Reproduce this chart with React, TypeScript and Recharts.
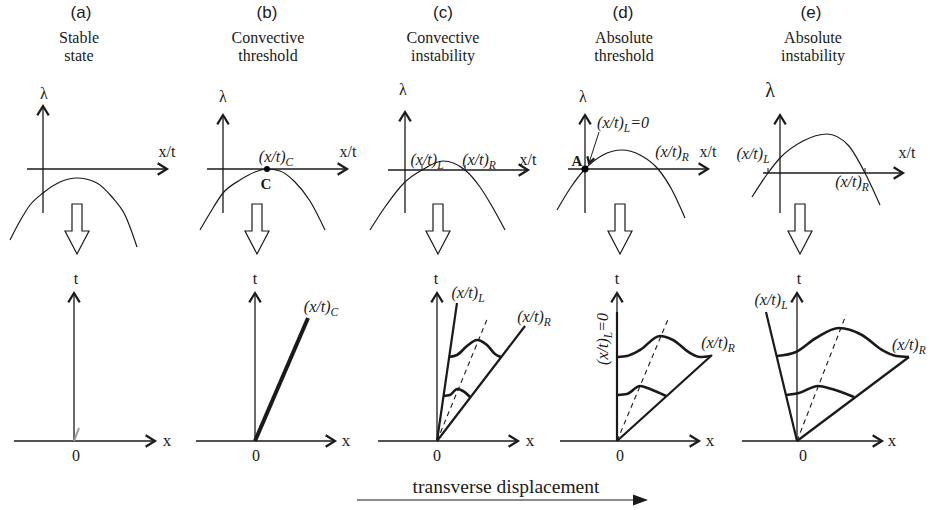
import React from "react";
import { LineChart, Line, XAxis, YAxis, ReferenceLine, ReferenceDot } from "recharts";

type Pt = { x: number; y: number };

// ---- top row: growth rate λ against ray speed x/t ----
const curveA: Pt[] = [
  { x: -3.3, y: -7.1 }, { x: -2.3, y: -5.2 }, { x: -1.3, y: -3.6 }, { x: 0, y: -2.4 },
  { x: 1.7, y: -1.3 }, { x: 3.4, y: -0.9 }, { x: 5.2, y: -1.3 }, { x: 6.9, y: -2.8 },
  { x: 8.2, y: -4.6 }, { x: 9.4, y: -7.8 },
];
const curveB: Pt[] = [
  { x: -2.3, y: -6.1 }, { x: -1.3, y: -4.4 }, { x: 0, y: -2.4 }, { x: 1.7, y: -1.1 },
  { x: 3.2, y: -0.3 }, { x: 4.4, y: 0 }, { x: 5.7, y: -0.2 }, { x: 7.2, y: -1.3 },
  { x: 8.7, y: -3.2 }, { x: 10.2, y: -6.1 },
];
const curveC: Pt[] = [
  { x: -3.5, y: -6.0 }, { x: -2.0, y: -3.7 }, { x: 0, y: -1.2 }, { x: 1.7, y: 0 },
  { x: 3.8, y: 0.9 }, { x: 6.0, y: 0 }, { x: 7.5, y: -1.7 }, { x: 8.8, y: -3.8 }, { x: 10.0, y: -6.0 },
];
const curveD: Pt[] = [
  { x: -2.8, y: -4.1 }, { x: -1.4, y: -1.8 }, { x: 0, y: 0 }, { x: 1.8, y: 1.4 },
  { x: 3.7, y: 1.9 }, { x: 5.5, y: 1.4 }, { x: 7.3, y: 0 }, { x: 8.7, y: -2.1 }, { x: 10.0, y: -4.9 },
];
const curveE: Pt[] = [
  { x: -2.8, y: -2.4 }, { x: -1.2, y: 0 }, { x: 0, y: 1.5 }, { x: 2.3, y: 3.2 },
  { x: 4.7, y: 3.9 }, { x: 6.8, y: 2.8 }, { x: 8.5, y: 0 }, { x: 10.0, y: -3.2 },
];
const topCurves = [curveA, curveB, curveC, curveD, curveE];

// axis extents (x/t and λ) per panel
const topXSpan = [[-1.6, 12.4], [-1.6, 12.4], [-1.7, 12.3], [-1.7, 12.3], [-1.7, 12.3]];
const topYSpan = [[-4.4, 6.3], [-4.4, 5.4], [-4.3, 5.8], [-4.4, 5.4], [-4.0, 5.8]];
// crossing ticks on the x/t axis
const topTicks = [[], [], [1.7, 6.0], [], [-1.2, 8.5]];
// hollow "leads to" arrows: x position, top
const hollowX = [3.4, 3.4, 3.3, 3.5, 2.0];
const hollowTop = [-3.5, -3.5, -3.4, -3.5, -3.1];

// ---- bottom row: rays and wave packets in the x–t plane ----
const rayEnds: { x: number; y: number; kind: string }[][] = [
  [{ x: 0.5, y: 1.3, kind: "ghost" }],
  [{ x: 5.3, y: 12.3, kind: "heavy" }],
  [{ x: 2.0, y: 13.8, kind: "ray" }, { x: 8.8, y: 11.5, kind: "ray" }, { x: 5.1, y: 12.4, kind: "dash" }],
  [{ x: 0, y: 12.9, kind: "ray" }, { x: 9.5, y: 8.6, kind: "ray" }, { x: 5.2, y: 12.4, kind: "dash" }],
  [{ x: -3.1, y: 12.9, kind: "ray" }, { x: 11.2, y: 8.4, kind: "ray" }, { x: 4.9, y: 12.6, kind: "dash" }],
];

const waveCUpper: Pt[] = [
  { x: 1.2, y: 8.4 }, { x: 2.0, y: 8.6 }, { x: 3.0, y: 9.5 }, { x: 4.0, y: 10.1 },
  { x: 5.0, y: 9.6 }, { x: 5.8, y: 8.7 }, { x: 6.4, y: 8.4 },
];
const waveCLower: Pt[] = [
  { x: 0.6, y: 4.5 }, { x: 1.3, y: 4.6 }, { x: 2.0, y: 5.2 }, { x: 2.6, y: 5.0 }, { x: 3.3, y: 4.4 },
];
const waveDUpper: Pt[] = [
  { x: 0.1, y: 8.4 }, { x: 1.0, y: 8.5 }, { x: 2.3, y: 9.1 }, { x: 4.3, y: 10.5 },
  { x: 5.6, y: 10.1 }, { x: 7.3, y: 8.8 }, { x: 8.3, y: 8.4 }, { x: 9.4, y: 8.5 },
];
const waveDLower: Pt[] = [
  { x: 0.1, y: 4.6 }, { x: 1.0, y: 4.7 }, { x: 2.3, y: 5.5 }, { x: 3.3, y: 5.2 }, { x: 4.9, y: 4.5 },
];
const waveEUpper: Pt[] = [
  { x: -2.0, y: 8.5 }, { x: -0.1, y: 8.9 }, { x: 1.9, y: 10.3 }, { x: 4.2, y: 11.3 },
  { x: 6.5, y: 10.6 }, { x: 8.5, y: 9.1 }, { x: 9.9, y: 8.5 }, { x: 11.2, y: 8.4 },
];
const waveELower: Pt[] = [
  { x: -1.1, y: 4.6 }, { x: 0.2, y: 4.8 }, { x: 2.1, y: 5.5 }, { x: 3.5, y: 5.2 }, { x: 5.7, y: 4.4 },
];
const waves: Pt[][][] = [[], [], [waveCUpper, waveCLower], [waveDUpper, waveDLower], [waveEUpper, waveELower]];

const bottomXSpan = [[-6.0, 8.1], [-5.9, 8.0], [-5.9, 8.1], [-5.7, 8.2], [-5.5, 8.5]];
const tTop = 14.8;

// ---- text ----
const panelLetters = ["(a)", "(b)", "(c)", "(d)", "(e)"];
const titles = [
  ["Stable", "state"],
  ["Convective", "threshold"],
  ["Convective", "instability"],
  ["Absolute", "threshold"],
  ["Absolute", "instability"],
];

// layout (page pixels)
const topOrigins = [[43, 169], [223, 169], [405, 170], [585, 169], [780, 173]];
const bottomOriginX = [74, 255, 437, 617, 797];
const bottomOriginY = 441;
const letterX = [81, 267, 443, 623, 811];
const titleX = [79, 268, 443, 624, 813];
const lambdaPos = [[44, 94], [223, 97], [403, 90], [583, 97], [770, 90]];
const xtPos = [[167, 152], [348, 152], [528, 160], [708, 152], [907, 153]];
const tPos = [76, 255, 436, 617, 799];
const xPos = [167, 346, 530, 710, 892];
const zeroPos = [76, 256, 437, 620, 803];

const SERIF = "'Liberation Serif', 'Times New Roman', 'DejaVu Serif', serif";
const SANS = "'Liberation Sans', Arial, sans-serif";
const INK = "#1a1a1a";

const ArrowShape = (head: number, width: number) => (props: any) => {
  const { x1, y1, x2, y2 } = props;
  const ang = Math.atan2(y2 - y1, x2 - x1);
  const s = 0.55;
  const ax = x2 - head * Math.cos(ang - s);
  const ay = y2 - head * Math.sin(ang - s);
  const bx = x2 - head * Math.cos(ang + s);
  const by = y2 - head * Math.sin(ang + s);
  return (
    <g>
      <line x1={x1} y1={y1} x2={x2} y2={y2} stroke={INK} strokeWidth={width} />
      <polyline points={`${ax},${ay} ${x2},${y2} ${bx},${by}`} fill="none" stroke={INK} strokeWidth={2.2} />
    </g>
  );
};
const AxisArrow = ArrowShape(11, 1.3);
const SmallArrow = ArrowShape(7, 1.0);

const HollowArrow = (props: any) => {
  const { cx, cy } = props;
  return (
    <path
      d={`M${cx - 5},${cy} H${cx + 5} V${cy + 27} H${cx + 12} L${cx},${cy + 50} L${cx - 12},${cy + 27} H${cx - 5} Z`}
      fill="#fff"
      stroke={INK}
      strokeWidth={1.2}
    />
  );
};

const Txt = ({ x, y, size = 16, font = SERIF, italic = false, bold = false, rotate = 0, align = "center", children }: any) => (
  <div
    style={{
      position: "absolute",
      left: x,
      top: y,
      transform: `translate(${align === "left" ? "0" : "-50%"},-50%) rotate(${rotate}deg)`,
      fontFamily: font,
      fontSize: size,
      fontStyle: italic ? "italic" : "normal",
      fontWeight: bold ? "bold" : "normal",
      whiteSpace: "nowrap",
      lineHeight: 1,
      color: INK,
    }}
  >
    {children}
  </div>
);

const Sub = ({ s, tail = "" }: { s: string; tail?: string }) => (
  <span style={{ fontStyle: "italic" }}>
    (x/t)
    <span style={{ fontSize: "0.72em", position: "relative", top: 4 }}>{s}</span>
    {tail}
  </span>
);

const TopPanel = ({ i }: { i: number }) => {
  const [ox, oy] = topOrigins[i];
  return (
    <div style={{ position: "absolute", left: ox - 40, top: oy - 100 }}>
      <LineChart width={180} height={190} margin={{ top: 0, right: 0, bottom: 0, left: 0 }}>
        <XAxis type="number" dataKey="x" domain={[-4, 14]} allowDataOverflow hide />
        <YAxis type="number" dataKey="y" domain={[-9, 10]} allowDataOverflow hide />
        <ReferenceLine segment={[{ x: topXSpan[i][0], y: 0 }, { x: topXSpan[i][1], y: 0 }]} shape={AxisArrow} />
        <ReferenceLine segment={[{ x: 0, y: topYSpan[i][0] }, { x: 0, y: topYSpan[i][1] }]} shape={AxisArrow} />
        {topTicks[i].map((t) => (
          <ReferenceLine key={t} segment={[{ x: t, y: 0 }, { x: t, y: 0.5 }]} stroke={INK} strokeWidth={1} />
        ))}
        <Line
          data={topCurves[i]}
          dataKey="y"
          type="monotone"
          stroke={INK}
          strokeWidth={1.2}
          dot={false}
          isAnimationActive={false}
        />
        {i === 1 && <ReferenceDot x={4.4} y={0} r={3} fill="#000" stroke="none" />}
        {i === 3 && <ReferenceDot x={0} y={0} r={3.5} fill="#000" stroke="none" />}
        {i === 3 && <ReferenceLine segment={[{ x: 1.4, y: 3.7 }, { x: 0.4, y: 0.6 }]} shape={SmallArrow} />}
        <ReferenceDot x={hollowX[i]} y={hollowTop[i]} r={1} shape={HollowArrow} />
      </LineChart>
    </div>
  );
};

const BottomPanel = ({ i }: { i: number }) => {
  const ox = bottomOriginX[i];
  return (
    <div style={{ position: "absolute", left: ox - 70, top: bottomOriginY - 170 }}>
      <LineChart width={200} height={200} margin={{ top: 0, right: 0, bottom: 0, left: 0 }}>
        <XAxis type="number" dataKey="x" domain={[-7, 13]} allowDataOverflow hide />
        <YAxis type="number" dataKey="y" domain={[-3, 17]} allowDataOverflow hide />
        <ReferenceLine segment={[{ x: bottomXSpan[i][0], y: 0 }, { x: bottomXSpan[i][1], y: 0 }]} shape={AxisArrow} />
        <ReferenceLine segment={[{ x: 0, y: 0 }, { x: 0, y: tTop }]} shape={AxisArrow} />
        {rayEnds[i].map((r, k) => (
          <ReferenceLine
            key={k}
            segment={[{ x: 0, y: 0 }, { x: r.x, y: r.y }]}
            stroke={r.kind === "ghost" ? "#9a9a9a" : INK}
            strokeWidth={r.kind === "heavy" ? 4 : r.kind === "dash" ? 1.1 : r.kind === "ghost" ? 2 : 2.2}
            strokeDasharray={r.kind === "dash" ? "5 4" : undefined}
          />
        ))}
        {waves[i].map((w, k) => (
          <Line
            key={k}
            data={w}
            dataKey="y"
            type="monotone"
            stroke={INK}
            strokeWidth={2.6}
            dot={false}
            isAnimationActive={false}
          />
        ))}
      </LineChart>
    </div>
  );
};

export default function App() {
  return (
    <div
      style={{
        position: "absolute",
        left: 0,
        top: 0,
        width: 930,
        height: 510,
        background: "#fff",
        overflow: "hidden",
        fontFamily: SERIF,
      }}
    >
      {[0, 1, 2, 3, 4].map((i) => (
        <TopPanel key={`t${i}`} i={i} />
      ))}
      {[0, 1, 2, 3, 4].map((i) => (
        <BottomPanel key={`b${i}`} i={i} />
      ))}

      {panelLetters.map((s, i) => (
        <Txt key={s} x={letterX[i]} y={12} size={17} font={SANS}>
          {s}
        </Txt>
      ))}
      {titles.map((t, i) => (
        <React.Fragment key={i}>
          <Txt x={titleX[i]} y={38} size={16}>{t[0]}</Txt>
          <Txt x={titleX[i]} y={56} size={16}>{t[1]}</Txt>
        </React.Fragment>
      ))}
      {lambdaPos.map(([x, y], i) => (
        <Txt key={`l${i}`} x={x} y={y} size={i === 4 ? 20 : 16}>λ</Txt>
      ))}
      {xtPos.map(([x, y], i) => (
        <Txt key={`xt${i}`} x={x} y={y} size={16}>x/t</Txt>
      ))}

      {/* top annotations */}
      <Txt x={276} y={157} size={16}><Sub s="C" /></Txt>
      <Txt x={266} y={184} size={15} bold>C</Txt>
      <Txt x={427} y={160} size={16}><Sub s="L" /></Txt>
      <Txt x={479} y={160} size={16}><Sub s="R" /></Txt>
      <Txt x={623} y={123} size={16}><Sub s="L" tail="=0" /></Txt>
      <Txt x={577} y={161} size={15} bold>A</Txt>
      <Txt x={672} y={152} size={16}><Sub s="R" /></Txt>
      <Txt x={753} y={154} size={16}><Sub s="L" /></Txt>
      <Txt x={852} y={182} size={16}><Sub s="R" /></Txt>

      {/* bottom labels */}
      {tPos.map((x, i) => (
        <Txt key={`tt${i}`} x={x} y={279} size={16}>t</Txt>
      ))}
      {xPos.map((x, i) => (
        <Txt key={`xx${i}`} x={x} y={440} size={17}>x</Txt>
      ))}
      {zeroPos.map((x, i) => (
        <Txt key={`z${i}`} x={x} y={456} size={16}>0</Txt>
      ))}
      <Txt x={321} y={307} size={16}><Sub s="C" /></Txt>
      <Txt x={468} y={293} size={16}><Sub s="L" /></Txt>
      <Txt x={534} y={317} size={16}><Sub s="R" /></Txt>
      <Txt x={603} y={339} size={16} rotate={-90}><Sub s="L" tail="=0" /></Txt>
      <Txt x={718} y={343} size={16}><Sub s="R" /></Txt>
      <Txt x={771} y={300} size={16}><Sub s="L" /></Txt>
      <Txt x={892} y={345} size={16} align="left"><Sub s="R" /></Txt>

      <Txt x={506} y={487} size={19.5}>transverse displacement</Txt>
      <svg style={{ position: "absolute", left: 350, top: 490 }} width={310} height={20}>
        <line x1={7} y1={10} x2={286} y2={10} stroke={INK} strokeWidth={1} />
        <polygon points="283,4.5 298,10 283,15.5" fill={INK} />
      </svg>
    </div>
  );
}
